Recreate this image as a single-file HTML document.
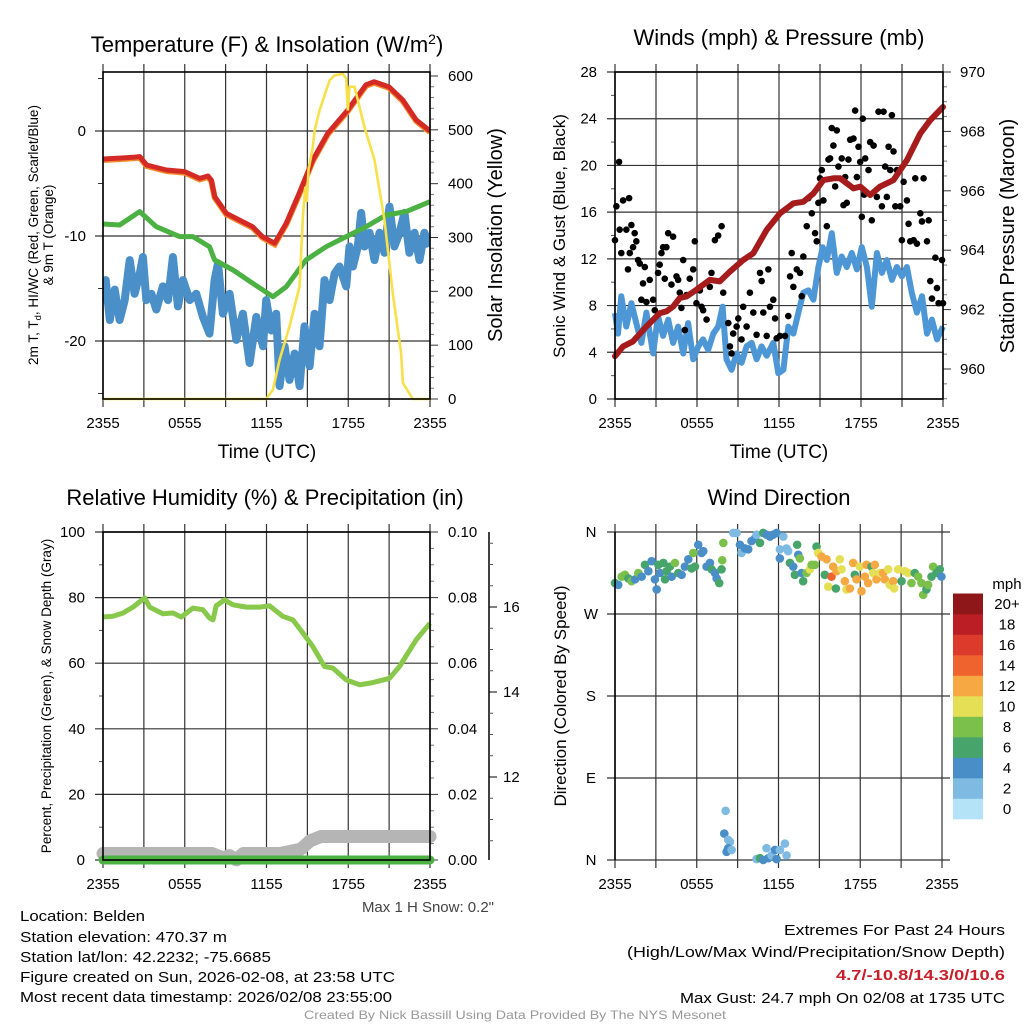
<!DOCTYPE html>
<html><head><meta charset="utf-8"><style>
html,body{margin:0;padding:0;background:#fff;}
svg{display:block;font-family:"Liberation Sans",Arial,sans-serif;}
</style></head><body>
<svg id="chart" width="1024" height="1024" viewBox="0 0 1024 1024" xmlns="http://www.w3.org/2000/svg">
<rect width="1024" height="1024" fill="#fff"/>
<g id="g1"></g>
<g id="g2"></g>
<g id="g3"></g>
<g id="g4"></g>
<g font-size="15" fill="#000">
<text x="20" y="921" textLength="125" lengthAdjust="spacingAndGlyphs">Location: Belden</text>
<text x="20" y="942" textLength="207" lengthAdjust="spacingAndGlyphs">Station elevation: 470.37 m</text>
<text x="20" y="962" textLength="251" lengthAdjust="spacingAndGlyphs">Station lat/lon: 42.2232; -75.6685</text>
<text x="20" y="982" textLength="375" lengthAdjust="spacingAndGlyphs">Figure created on Sun, 2026-02-08, at 23:58 UTC</text>
<text x="20" y="1002" textLength="372" lengthAdjust="spacingAndGlyphs">Most recent data timestamp: 2026/02/08 23:55:00</text>
<text x="784" y="935" textLength="221" lengthAdjust="spacingAndGlyphs">Extremes For Past 24 Hours</text>
<text x="627" y="957" textLength="378" lengthAdjust="spacingAndGlyphs">(High/Low/Max Wind/Precipitation/Snow Depth)</text>
<text x="836" y="980" textLength="169" lengthAdjust="spacingAndGlyphs" fill="#c8202a" font-weight="bold">4.7/-10.8/14.3/0/10.6</text>
<text x="680" y="1003" textLength="325" lengthAdjust="spacingAndGlyphs">Max Gust: 24.7 mph On 02/08 at 1735 UTC</text>
<text x="304" y="1019" font-size="12" fill="#999" textLength="422" lengthAdjust="spacingAndGlyphs">Created By Nick Bassill Using Data Provided By The NYS Mesonet</text>
</g>
</svg>
<script>
// ---- Panel 1 data ----
const tempT=[0,2.2,2.7,3.2,4.65,6.0,7.1,7.7,7.95,8.2,9.05,10.0,10.98,11.7,12.6,13.45,14.4,15.4,16.5,17.97,19.3,19.9,21.0,22.0,22.99,24];
const tempV=[-2.67,-2.5,-2.44,-3.24,-3.71,-3.87,-4.51,-4.29,-4.67,-6.25,-7.84,-8.48,-9.11,-10.06,-10.7,-8.79,-5.94,-2.76,-0.22,2.0,4.4,4.7,4.2,2.95,1.05,0.0];
const dewT=[0,1.22,2.69,3.91,5.62,6.6,7.82,8.19,9.54,11.0,12.47,13.45,14.9,16.38,17.85,19.32,20.78,22.25,24];
const dewV=[-8.86,-8.95,-7.68,-9.11,-10.06,-10.06,-11.02,-12.29,-13.24,-14.51,-15.78,-14.83,-12.29,-11.02,-10.06,-9.11,-8.0,-7.68,-6.73];
const wcT=[0,.2,.5,.86,1.22,1.59,1.96,2.32,2.69,2.93,3.18,3.55,3.91,4.4,4.77,5.13,5.5,5.87,6.36,6.85,7.33,7.82,8.19,8.44,8.8,9.29,9.78,10.27,10.76,11.25,11.74,11.98,12.35,12.71,12.96,13.33,13.69,14.06,14.43,14.79,15.16,15.53,15.89,16.26,16.63,16.99,17.36,17.85,18.09,18.34,18.7,18.95,19.19,19.56,19.93,20.29,20.66,21.03,21.39,21.76,22.13,22.49,22.86,23.23,23.59,24];
const wcV=[-16.4,-14.2,-18.0,-15.1,-18.0,-16.1,-12.3,-15.5,-13.6,-12.0,-16.1,-15.5,-17.0,-14.8,-16.1,-12.0,-16.7,-14.2,-16.1,-15.5,-17.7,-19.3,-14.2,-12.6,-17.4,-15.5,-19.9,-17.4,-22.1,-17.7,-20.5,-16.1,-19.0,-17.4,-24.3,-20.5,-23.7,-21.2,-24.3,-18.6,-22.4,-17.4,-20.5,-14.2,-16.1,-13.6,-12.9,-14.8,-11.0,-12.9,-11.0,-7.8,-11.0,-9.7,-12.3,-9.7,-11.6,-7.2,-11.0,-9.7,-7.8,-11.6,-9.7,-12.3,-9.7,-11.0];
const solT=[0,8,11.98,12.47,12.96,13.69,14.43,14.67,14.85,14.96,15.08,15.4,15.53,15.89,16.63,16.99,17.6,17.85,17.97,18.09,18.46,19.19,19.93,20.66,21.27,21.88,22.01,22.74,24];
const solV=[0,0,0,17,73,135,209,339,394,366,425,468,499,536,592,601,604,595,536,580,580,505,444,332,196,85,30,0,0];
const p1X=["2355","0555","1155","1755","2355"];
const p1L=[0,-10,-20];
const p1R=[0,100,200,300,400,500,600];
// ---- Panel 2 data ----
const presT=[0,.59,1.32,2.3,3.27,3.76,4.25,4.74,5.23,5.96,6.94,7.67,8.41,9.38,10.12,11.09,12.07,13.05,13.78,14.52,15.25,15.98,16.47,17.45,17.94,18.67,19.4,20.38,21.36,22.34,23.07,24];
const presV=[960.43,960.76,960.93,961.43,961.88,961.94,962.1,962.39,962.44,962.67,963.0,962.95,963.28,963.67,963.9,964.68,965.24,965.58,965.63,965.91,966.36,966.42,966.42,966.08,966.14,965.86,966.14,966.36,967.03,967.93,968.38,968.82];
const windT=[0,.22,.46,.83,1.2,1.56,1.93,2.3,2.79,3.15,3.52,3.89,4.25,4.62,4.99,5.35,5.72,6.09,6.45,6.82,7.19,7.55,7.87,8.16,8.53,8.9,9.26,9.63,10.0,10.36,10.73,11.1,11.58,11.95,12.32,12.68,13.05,13.42,13.78,14.15,14.52,14.88,15.2,15.5,15.86,16.23,16.59,16.96,17.33,17.7,18.06,18.43,18.79,19.16,19.53,19.89,20.26,20.63,20.99,21.36,21.72,22.09,22.46,22.83,23.19,23.56,24];
const windV=[7.35,5.6,8.8,6.2,8.2,6.5,4.8,7.4,3.9,7.1,5.4,6.8,4.8,6.2,3.9,6.5,3.4,4.5,5.1,4.2,5.6,6.2,7.9,3.4,2.5,3.9,3.1,4.5,4.8,3.4,4.5,3.7,4.8,2.2,2.5,6.2,5.6,7.4,9.1,9.3,8.5,11.3,13.0,11.9,14.2,10.8,12.2,11.3,12.5,11.1,13.0,11.3,7.9,12.5,10.8,11.9,10.2,11.3,10.5,11.3,9.1,7.4,8.8,5.6,6.8,5.1,6.2];
const gustT=[0,.1,.3,.34,.46,.59,.83,.95,1.03,1.08,1.2,1.32,1.44,1.56,1.69,1.81,1.93,2.05,2.18,2.3,2.54,2.79,2.91,3.15,3.27,3.4,3.52,3.64,3.76,3.89,4.13,4.25,4.5,4.62,4.74,4.86,4.99,5.11,5.23,5.47,5.72,5.84,5.96,6.21,6.33,6.45,6.7,6.94,7.06,7.31,7.55,7.8,7.92,8.29,8.41,8.53,8.65,8.9,9.02,9.26,9.38,9.63,9.87,10.12,10.36,10.61,10.73,10.85,11.1,11.22,11.34,11.58,11.71,11.83,12.07,12.44,12.68,12.81,12.93,13.05,13.3,13.54,13.66,13.78,14.03,14.15,14.4,14.64,14.76,14.88,15.0,15.13,15.25,15.5,15.62,15.74,15.86,15.98,16.11,16.23,16.35,16.59,16.72,16.84,16.96,17.08,17.21,17.45,17.57,17.7,17.82,17.94,18.06,18.13,18.23,18.31,18.55,18.67,18.79,18.92,19.16,19.28,19.53,19.65,19.77,19.89,20.02,20.14,20.26,20.38,20.51,20.63,20.87,20.99,21.12,21.36,21.48,21.6,21.85,21.97,22.09,22.34,22.46,22.58,22.83,22.95,23.07,23.19,23.44,23.56,23.68,23.93,24];
const gustV=[13.6,16.5,20.3,14.5,12.5,17.0,14.5,11.1,17.2,12.5,14.9,13.0,14.2,13.5,11.9,11.6,8.5,9.9,11.3,8.3,10.2,8.5,7.6,10.8,11.5,12.5,13.0,10.3,13.0,14.2,9.8,13.9,10.5,10.2,9.1,7.8,11.9,5.9,8.9,10.3,11.1,13.5,8.2,9.3,7.9,7.6,6.8,9.6,10.8,13.6,14.0,14.8,9.1,6.5,4.5,3.9,5.6,6.2,6.9,5.1,7.9,6.2,9.1,7.4,5.5,10.8,10.1,7.4,5.4,11.1,7.9,8.5,6.9,5.2,5.4,5.4,7.1,10.5,12.5,9.6,11.1,10.8,8.8,12.2,14.8,17.2,15.9,14.2,13.5,16.8,18.9,19.6,17.0,14.8,20.5,20.6,23.2,21.7,18.2,23.0,19.9,20.6,16.6,19.0,16.8,20.5,22.2,22.3,24.7,19.0,21.6,20.3,15.6,24.0,17.5,20.6,19.6,22.0,15.3,21.7,17.3,24.6,16.5,24.6,19.9,17.3,21.6,19.6,24.3,21.2,16.5,19.6,16.5,13.6,18.6,17.0,15.0,13.5,13.6,18.9,13.3,15.9,15.2,18.9,13.5,15.3,10.1,8.6,12.1,9.5,8.2,11.9,8.2];
const p2L=[0,4,8,12,16,20,24,28];
const p2R=[960,962,964,966,968,970];
// ---- Panel 3 data ----
const rhT=[0,.73,1.47,2.2,3.06,3.42,4.4,5.13,5.75,6.6,7.33,7.82,8.07,8.31,8.92,9.54,10.51,11.49,12.22,13.2,13.94,14.67,15.4,16.26,16.87,17.85,18.83,19.8,21.03,21.76,22.98,24];
const rhV=[74.1,74.3,75.3,77.1,79.9,77.1,75.1,75.3,74.1,76.8,76.3,73.8,73.2,77.5,79.3,77.8,77.1,77.1,77.5,74.3,73.2,69.2,65.1,59.0,58.5,54.9,53.4,54.1,55.4,59.0,67.1,72.2];
const snowT=[0,3,6,8,8.8,9.3,9.8,10.3,11,13,14.5,15.2,16,24];
const snowV=[10.2,10.2,10.2,10.2,10.1,10.15,10.05,10.2,10.2,10.2,10.3,10.5,10.6,10.6];
const precT=[0,24];
const precV=[0,0];
const p3L=[0,20,40,60,80,100];
const p3R=["0.00","0.02","0.04","0.06","0.08","0.10"];
const p3S=[12,14,16];
// ---- Panel 4 data ----
const dirT=[0,.24,.49,.73,.98,1.22,1.47,1.71,1.96,2.2,2.45,2.69,2.93,3.06,3.18,3.3,3.55,3.67,3.79,4.03,4.16,4.4,4.65,4.89,5.13,5.38,5.62,5.75,5.87,6.11,6.36,6.48,6.72,6.97,7.09,7.34,7.46,7.65,7.82,7.87,7.95,
8.68,8.92,9.17,9.29,9.54,9.78,10.02,10.27,10.39,10.64,10.88,11.12,11.37,11.61,11.86,12.1,12.35,12.59,12.71,12.1,12.84,13.08,13.2,13.37,13.45,13.57,13.69,13.81,14.06,14.3,14.43,14.67,14.79,14.91,15.16,15.4,15.53,15.65,15.89,16.01,16.26,16.21,16.5,16.63,16.87,16.99,17.24,17.48,17.6,17.73,17.97,18.09,18.34,18.46,18.58,18.83,18.95,19.07,19.19,19.44,19.68,19.8,20.05,20.17,20.42,20.49,20.78,21.03,21.27,21.52,21.76,22.0,22.25,22.49,22.62,22.86,22.98,23.23,23.35,23.59,23.84,23.96,
8.12,8.02,8.31,8.44,8.19,8.31,8.56,10.39,10.64,10.88,11.12,11.25,11.49,11.74,11.86,12.1,12.47,12.59];
const dirV=[304,302,311,313,309,306,308,315,311,324,317,328,308,297,324,315,326,308,317,322,311,326,315,313,322,330,320,337,322,346,337,339,322,326,319,315,309,304,319,329,348,
359,359,346,337,342,341,350,353,357,348,359,357,355,357,359,341,355,342,339,331,326,322,313,346,335,331,315,306,315,319,324,324,344,337,333,313,330,300,311,322,317,298,330,319,306,297,298,326,313,308,322,295,311,324,304,322,315,324,308,315,315,308,319,302,306,298,319,306,317,315,304,315,311,304,291,297,302,311,322,315,319,311,
54,29,22,20,9,13,11,1,2,0,13,2,5,11,1,11,18,5];
const dirS=[7,5,9,9,7,9,5,9,5,7,5,5,5,5,7,5,7,7,7,7,5,9,7,5,5,5,7,9,7,5,5,5,5,5,7,5,5,7,7,9,9,
3,3,5,3,5,5,5,5,3,7,7,5,5,5,5,3,3,3,3,5,7,5,7,7,5,9,5,7,9,11,9,9,7,11,13,7,13,11,15,13,13,7,11,11,13,11,13,13,7,13,11,13,13,13,13,7,11,13,13,11,13,13,11,11,13,11,11,7,11,11,9,7,9,9,9,7,9,7,9,7,7,5,
3,5,3,3,5,5,3,3,7,5,3,5,3,5,5,3,3,3];
const p4L=["N","E","S","W","N"];
const cbLabels=["0","2","4","6","8","10","12","14","16","18","20+"];
const cbColors=["#b4e2f6","#7fbae3","#4a8ec7","#47a56b","#7bc04b","#e5df55","#f6a943","#ee632e","#dc3a2b","#bb1e25","#8e1819"];

const NS="http://www.w3.org/2000/svg";
function mk(parent,tag,attrs,text){const e=document.createElementNS(NS,tag);for(const k in attrs)e.setAttribute(k,attrs[k]);if(text!==undefined)e.textContent=text;parent.appendChild(e);return e;}
function lin(d0,d1,r0,r1){return v=>r0+(v-d0)/(d1-d0)*(r1-r0);}
function pathD(xs,ys,fx,fy){return xs.map((t,i)=>(i?'L':'M')+fx(t).toFixed(1)+','+fy(ys[i]).toFixed(1)).join('');}

function frame(g,L,R,T,B,xs,xTicks){
  for(let h=0;h<=24;h+=3){const x=xs(h);
    const gl=mk(g,'line',{x1:x,x2:x,y1:T-8,y2:B+8,stroke:'#333','stroke-width':1.2});
    }
  xTicks.forEach((s,i)=>{const t=mk(g,'text',{x:xs(i*6),y:B+29,'font-size':15,'text-anchor':'middle'},s);
    });
}
function rotText(g,x,y,size,str,name){const t=mk(g,'text',{x:0,y:0,'font-size':size,'text-anchor':'middle',transform:`translate(${x},${y}) rotate(-90)`},str);
  return t;}

// ===== Panel 1 =====
(function(){
  const g=document.getElementById('g1');
  const L=103,R=430,T=72,B=399;
  const xs=lin(0,24,L,R), yl=lin(0,-10,131,236), yr=lin(0,600,399,76);
  frame(g,L,R,T,B,xs,p1X);
  p1L.forEach(v=>{const y=yl(v);mk(g,'line',{x1:L-8,x2:R,y1:y,y2:y,stroke:'#333','stroke-width':1.2});
    const t=mk(g,'text',{x:L-17,y:y+5,'font-size':15,'text-anchor':'end'},String(v));
    });
  for(let v=-25;v<=5;v+=5){if(v%10!==0){const y=yl(v);mk(g,'line',{x1:L-5,x2:L,y1:y,y2:y,stroke:'#333'});}}
  p1R.forEach(v=>{const y=yr(v);mk(g,'line',{x1:R,x2:R+8,y1:y,y2:y,stroke:'#333'});
    const t=mk(g,'text',{x:R+18,y:y+5,'font-size':15},String(v));
    });
  for(let v=20;v<600;v+=20){if(v%100){const y=yr(v);mk(g,'line',{x1:R,x2:R+4,y1:y,y2:y,stroke:'#777'});}}
  const c=mk(g,'g',{'clip-path':'url(#c1)'});
  const cp=mk(mk(g,'defs',{}),'clipPath',{id:'c1'});mk(cp,'rect',{x:L,y:T,width:R-L,height:B-T+2});
  let p=mk(c,'path',{d:pathD(wcT,wcV,xs,yl),fill:'none',stroke:'#4a8fc8','stroke-width':8,'stroke-linejoin':'round'});
  
  p=mk(c,'path',{d:pathD(dewT,dewV,xs,yl),fill:'none',stroke:'#4bb143','stroke-width':5,'stroke-linejoin':'round'});
  
  p=mk(c,'path',{d:pathD(tempT,tempV,xs,yl),fill:'none',stroke:'#f58a2a','stroke-width':6,transform:'translate(0,1)'});
  
  p=mk(c,'path',{d:pathD(tempT,tempV,xs,yl),fill:'none',stroke:'#d42a26','stroke-width':5,'stroke-linejoin':'round'});
  
  p=mk(c,'path',{d:pathD(solT,solV,xs,yr),fill:'none',stroke:'#f7e04a','stroke-width':2.6});
  
  mk(g,'rect',{x:L,y:T,width:R-L,height:B-T,fill:'none',stroke:'#000','stroke-width':1.6});
  const ti=mk(g,'text',{x:267,y:52,'font-size':22,'text-anchor':'middle'});ti.innerHTML='Temperature (F) &amp; Insolation (W/m<tspan dy="-8" font-size="14">2</tspan><tspan dy="8">)</tspan>';
  
  const xt=mk(g,'text',{x:267,y:458,'font-size':19,'text-anchor':'middle'},'Time (UTC)');
  
  const yt=mk(g,'text',{x:0,y:0,'font-size':13.5,'text-anchor':'middle',transform:'translate(38,235) rotate(-90)'});
  yt.innerHTML='2m T, T<tspan dy="3" font-size="9.5">d</tspan><tspan dy="-3">, HI/WC (Red, Green, Scarlet/Blue)</tspan>';
  
  rotText(g,53,235,13.5,'& 9m T (Orange)','left-axis-title-2');
  rotText(g,502,235,20,'Solar Insolation (Yellow)','right-axis-title');
})();

// ===== Panel 2 =====
(function(){
  const g=document.getElementById('g2');
  const L=615,R=943,T=72,B=399;
  const xs=lin(0,24,L,R), yl=lin(0,28,B,T), yr=lin(960,970,369,72);
  frame(g,L,R,T,B,xs,p1X);
  p2L.forEach(v=>{const y=yl(v);mk(g,'line',{x1:L-8,x2:R,y1:y,y2:y,stroke:'#333','stroke-width':1.2});
    const t=mk(g,'text',{x:L-18,y:y+5,'font-size':15,'text-anchor':'end'},String(v));
    });
  for(let v=2;v<28;v+=4){const y=yl(v);mk(g,'line',{x1:L-4,x2:L,y1:y,y2:y,stroke:'#555'});}
  p2R.forEach(v=>{const y=yr(v);mk(g,'line',{x1:R,x2:R+8,y1:y,y2:y,stroke:'#333'});
    const t=mk(g,'text',{x:R+17,y:y+5,'font-size':15},String(v));
    });
  for(let v=959;v<970;v+=0.5){if(v%2){const y=yr(v);mk(g,'line',{x1:R,x2:R+4,y1:y,y2:y,stroke:'#777'});}}
  const cp=mk(mk(g,'defs',{}),'clipPath',{id:'c2'});mk(cp,'rect',{x:L-4,y:T,width:R-L+8,height:B-T});
  const c=mk(g,'g',{'clip-path':'url(#c2)'});
  let p=mk(c,'path',{d:pathD(windT,windV,xs,yl),fill:'none',stroke:'#4d97d6','stroke-width':6,'stroke-linejoin':'round'});
  
  gustT.forEach((t,i)=>{const d=mk(c,'circle',{cx:xs(t),cy:yl(gustV[i]),r:3.3,fill:'#000'});
    });
  p=mk(c,'path',{d:pathD(presT,presV,xs,yr),fill:'none',stroke:'#a61c1c','stroke-width':6,'stroke-linejoin':'round','stroke-linecap':'round'});
  
  mk(g,'rect',{x:L,y:T,width:R-L,height:B-T,fill:'none',stroke:'#000','stroke-width':1.6});
  const ti=mk(g,'text',{x:779,y:45,'font-size':22,'text-anchor':'middle'},'Winds (mph) & Pressure (mb)');
  
  const xt=mk(g,'text',{x:779,y:458,'font-size':19,'text-anchor':'middle'},'Time (UTC)');
  
  rotText(g,565,236,17,'Sonic Wind & Gust (Blue, Black)','left-axis-title');
  rotText(g,1014,236,20,'Station Pressure (Maroon)','right-axis-title');
})();

// ===== Panel 3 =====
(function(){
  const g=document.getElementById('g3');
  const L=103,R=430,T=532,B=860;
  const xs=lin(0,24,L,R), yl=lin(0,100,B,T), ys=lin(10,12,862,777);
  frame(g,L,R,T,B,xs,p1X);
  p3L.forEach(v=>{const y=yl(v);mk(g,'line',{x1:L-8,x2:R,y1:y,y2:y,stroke:'#333','stroke-width':1.2});
    const t=mk(g,'text',{x:L-18,y:y+5,'font-size':15,'text-anchor':'end'},String(v));
    });
  for(let v=10;v<100;v+=20){const y=yl(v);mk(g,'line',{x1:L-4,x2:L,y1:y,y2:y,stroke:'#555'});}
  p3R.forEach((s,i)=>{const y=yl(i*20);mk(g,'line',{x1:R,x2:R+8,y1:y,y2:y,stroke:'#333'});
    const t=mk(g,'text',{x:R+18,y:y+5,'font-size':15},s);
    });
  for(let v=5;v<100;v+=5){if(v%20){const y=yl(v);mk(g,'line',{x1:R,x2:R+4,y1:y,y2:y,stroke:'#777'});}}
  const ax=mk(g,'line',{x1:489,x2:489,y1:T,y2:B,stroke:'#000','stroke-width':1.5});
  
  p3S.forEach(v=>{const y=ys(v);mk(g,'line',{x1:489,x2:497,y1:y,y2:y,stroke:'#000'});
    const t=mk(g,'text',{x:503,y:y+5,'font-size':15},String(v));
    });
  for(let v=10.5;v<17.7;v+=0.5){if(v%2){const y=ys(v);mk(g,'line',{x1:489,x2:493,y1:y,y2:y,stroke:'#555'});}}
  let p=mk(g,'path',{d:pathD(snowT,snowV,xs,ys),fill:'none',stroke:'#b5b5b5','stroke-width':13,'stroke-linecap':'round','stroke-linejoin':'round'});
  
  p=mk(g,'path',{d:pathD(precT,precV,xs,yl),fill:'none',stroke:'#4bb143','stroke-width':9,'stroke-linecap':'round'});
  
  p=mk(g,'path',{d:pathD(rhT,rhV,xs,yl),fill:'none',stroke:'#88c84a','stroke-width':5,'stroke-linejoin':'round'});
  
  mk(g,'rect',{x:L,y:T,width:R-L,height:B-T,fill:'none',stroke:'#000','stroke-width':1.6});
  const ti=mk(g,'text',{x:265,y:505,'font-size':22,'text-anchor':'middle'},'Relative Humidity (%) & Precipitation (in)');
  
  rotText(g,51,696,13.5,'Percent, Precipitation (Green), & Snow Depth (Gray)','left-axis-title');
  const ms=mk(g,'text',{x:494,y:912,'font-size':15,'text-anchor':'end',fill:'#444'},'Max 1 H Snow: 0.2"');
  
})();

// ===== Panel 4 =====
(function(){
  const g=document.getElementById('g4');
  const L=615,R=942,T=532,B=860;
  const xs=lin(0,24,L,R), yd=lin(0,360,B,T);
  frame(g,L,R,T,B,xs,p1X);
  p4L.forEach((s,i)=>{const y=yd(i*90);mk(g,'line',{x1:L-8,x2:R+8,y1:y,y2:y,stroke:'#333','stroke-width':1.2});
    const t=mk(g,'text',{x:591,y:y+5,'font-size':15,'text-anchor':'middle'},s);
    });
  dirT.forEach((t,i)=>{const s=dirS[i];const idx=Math.min(10,Math.floor(s/2));
    const d=mk(g,'circle',{cx:xs(t),cy:yd(dirV[i]),r:4.3,fill:cbColors[idx]});
    });
  mk(g,'line',{x1:L,x2:L,y1:T,y2:B,stroke:'#000','stroke-width':1.6});
  const ti=mk(g,'text',{x:779,y:505,'font-size':22,'text-anchor':'middle'},'Wind Direction');
  
  rotText(g,566,696,17,'Direction (Colored By Speed)','left-axis-title');
  const cb=mk(g,'g',{});
  const bh=20.5, cbB=819;
  cbColors.forEach((col,i)=>{const r=mk(cb,'rect',{x:953,y:cbB-(i+1)*bh,width:30,height:bh+0.3,fill:col});
    });
  cbLabels.forEach((s,i)=>{const t=mk(cb,'text',{x:1007,y:cbB-(i+0.5)*bh+5,'font-size':15,'text-anchor':'middle'},s);
    });
  const u=mk(cb,'text',{x:1007,y:589,'font-size':15,'text-anchor':'middle'},'mph');
  
})();
</script>
</body></html>
